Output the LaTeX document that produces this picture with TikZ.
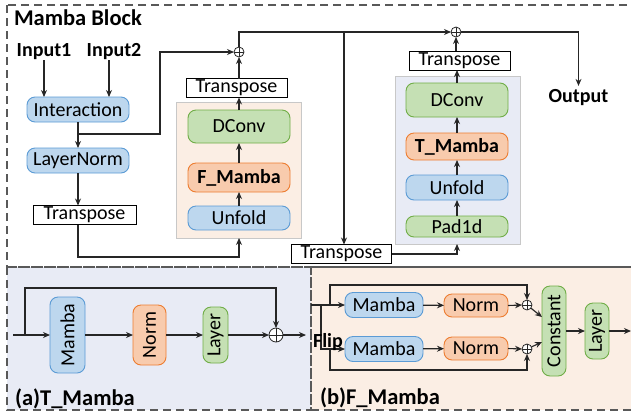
\documentclass[tikz,border=0pt]{standalone}
\usepackage{fontspec}
\usepackage{graphicx}
\setmainfont{Carlito}
\usetikzlibrary{arrows.meta,calc}
\definecolor{bfill}{HTML}{BDD7EE}
\definecolor{bdraw}{HTML}{5B9BD5}
\definecolor{ofill}{HTML}{F8CBAD}
\definecolor{odraw}{HTML}{ED7D31}
\definecolor{gfill}{HTML}{C5E0B4}
\definecolor{gdraw}{HTML}{70AD47}
\definecolor{tpanel}{HTML}{E8EBF5}
\definecolor{fpanel}{HTML}{FBEEE4}
\definecolor{pborder}{HTML}{C8C8C8}
\definecolor{dashc}{HTML}{595959}
\begin{document}
\begin{tikzpicture}[x=1pt,y=-1pt,
  font=\fontsize{20}{24}\selectfont,
  every node/.style={inner sep=0pt, outer sep=0pt},
  blk/.style={rounded corners=8pt, line width=0.9pt},
  bluebox/.style={blk, draw=bdraw, fill=bfill},
  orgbox/.style={blk, draw=odraw, fill=ofill},
  grnbox/.style={blk, draw=gdraw, fill=gfill},
  trbox/.style={draw=black, line width=0.9pt, fill=white, minimum width=101pt, minimum height=19pt},
  panel/.style={draw=pborder, line width=0.8pt},
  frame/.style={draw=dashc, line width=1.4pt, dash pattern=on 8pt off 5pt},
  conn/.style={line width=1.1pt, draw=black!85},
  arr/.style={conn, -{Stealth[length=7pt,width=6pt]}},
  bold/.style={font=\fontsize{20}{24}\selectfont\bfseries},
  bigbold/.style={font=\fontsize{22.5}{26}\selectfont\bfseries},
  sumnode/.style={circle, draw=black!85, line width=0.8pt, fill=white, minimum size=#1,
    path picture={\draw[line width=0.8pt,black!85] (path picture bounding box.north) -- (path picture bounding box.south)
      (path picture bounding box.west) -- (path picture bounding box.east);}},
]
\useasboundingbox (0,0) rectangle (631,416);

% ---------- bottom panels ----------
\fill[tpanel] (7,267) rectangle (311,410);
\fill[fpanel] (311,267) rectangle (640,410);
\draw[frame] (7,5) rectangle (640,267);
\draw[frame] (7,267) rectangle (311,410);
\draw[frame] (311,267) rectangle (640,410);

% ---------- top block ----------
\node[bigbold, anchor=west] (title) at (14,18) {Mamba Block};
\node[bold] (in1) at (44,52) {Input1};
\node[bold] (in2) at (114,52) {Input2};
\node[bluebox, minimum width=102pt, minimum height=25pt] (inter) at (78,109.5) {Interaction};
\node[bluebox, minimum width=102pt, minimum height=25pt] (ln) at (78,160.5) {LayerNorm};
\node[trbox, minimum width=103pt] (tr1) at (84.5,215) {Transpose};

\node[panel, fill=fpanel, minimum width=125pt, minimum height=136pt] (fpan) at (238.5,170) {};
\node[grnbox, minimum width=102pt, minimum height=33pt] (dc1) at (239,126.5) {DConv};
\node[orgbox, bold, minimum width=102pt, minimum height=29pt] (fm) at (239,177.5) {F\_Mamba};
\node[bluebox, minimum width=102pt, minimum height=24pt] (unf1) at (239,218) {Unfold};
\node[trbox] (tr2) at (236.5,88) {Transpose};
\node[sumnode=10pt] (s1) at (239,52) {};

\node[panel, fill=tpanel, minimum width=125pt, minimum height=168pt] (tpan) at (457.5,160) {};
\node[grnbox, minimum width=102pt, minimum height=34pt] (dc2) at (457,100) {DConv};
\node[orgbox, bold, minimum width=102pt, minimum height=27pt] (tm) at (457,146.5) {T\_Mamba};
\node[bluebox, minimum width=102pt, minimum height=25pt] (unf2) at (457,187.5) {Unfold};
\node[grnbox, minimum width=102pt, minimum height=21pt] (pad) at (457,226.5) {Pad1d};
\node[trbox] (tr4) at (459.5,60.5) {Transpose};
\node[sumnode=10pt] (s2) at (456,32) {};
\node[trbox, minimum width=100pt] (tr3) at (341.5,254) {Transpose};
\node[bold, outer sep=4pt] (out) at (578.5,98) {Output};

% connectors top
\draw[arr] (in1.south) -- (in1.south |- inter.north);
\draw[arr] ([xshift=-5pt]in2.south) -- ([xshift=-5pt]in2.south |- inter.north);
\draw[arr] (inter.south) -- (ln.north);
\coordinate (b1) at (78,134);
\coordinate (c1) at (160,134);
\draw[arr] (b1) -- (c1) |- (s1.west);
\draw[arr] (ln.south) -- (ln.south |- tr1.north);
\coordinate (j1) at (78,257);
\draw[arr] (tr1.south -| j1) -- (j1) -| (fpan.south -| unf1.south);
\draw[arr] (unf1.north) -- (fm.south);
\draw[arr] (fm.north) -- (dc1.south);
\draw[arr] (dc1.north) -- (tr2.south -| dc1.north);
\draw[arr] (tr2.north -| s1.south) -- (s1.south);
\draw[arr] (s1.north) |- (s2.west);
\coordinate (b2) at (344,32);
\draw[arr] (b2) -- (b2 |- tr3.north);
\draw[arr] (tr3.east) -| (tpan.south -| pad.south);
\draw[arr] (pad.north) -- (unf2.south);
\draw[arr] (unf2.north) -- (tm.south);
\draw[arr] (tm.north) -- (dc2.south);
\draw[arr] (dc2.north) -- (tr4.south -| dc2.north);
\draw[arr] (tr4.north -| s2.south) -- (s2.south);
\draw[arr] (s2.east) -| (out.north);

% ---------- (a) T_Mamba ----------
\node[bluebox, minimum width=35pt, minimum height=76pt] (am) at (67.5,335) {\rotatebox{90}{Mamba}};
\node[orgbox, minimum width=33pt, minimum height=60pt] (an) at (149.5,335) {\rotatebox{90}{Norm}};
\node[grnbox, minimum width=25pt, minimum height=56pt] (al) at (215.5,335) {\rotatebox{90}{Layer}};
\node[sumnode=14pt] (as) at (276,335) {};
\coordinate (ain) at (13,335);
\coordinate (ab) at (25,335);
\coordinate (atop) at (25,288);
\coordinate (aout) at (306,335);
\draw[arr] (ain) -- (am);
\draw[arr] (ab) -- (atop) -| (as.north);
\draw[arr] (am) -- (an);
\draw[arr] (an) -- (al);
\draw[arr] (al) -- (as);
\draw[arr] (as.east) -- (aout);
\node[bigbold, anchor=west] (alab) at (15,399) {(a)T\_Mamba};

% ---------- (b) F_Mamba ----------
\node[bluebox, minimum width=78pt, minimum height=25pt] (bm1) at (384,305) {Mamba};
\node[orgbox, minimum width=64pt, minimum height=23pt] (bn1) at (476,305.5) {Norm};
\node[bluebox, minimum width=78pt, minimum height=25pt] (bm2) at (384,349) {Mamba};
\node[orgbox, minimum width=64pt, minimum height=23pt] (bn2) at (476,348.5) {Norm};
\node[sumnode=10pt] (bs1) at (527,305) {};
\node[sumnode=10pt] (bs2) at (527,349) {};
\node[grnbox, minimum width=24pt, minimum height=90pt] (bc) at (554,331) {\rotatebox{90}{Constant}};
\node[grnbox, minimum width=24pt, minimum height=56pt] (bl) at (597,331) {\rotatebox{90}{Layer}};
\coordinate (bin) at (311,305);
\coordinate (bout) at (631,331);
\coordinate (bj1) at (330,305);
\coordinate (bj1t) at (330,285);
\coordinate (bj2) at (321,305);
\coordinate (bj2b) at (321,349);
\coordinate (bj3) at (330,349);
\coordinate (bj3b) at (330,370);
\draw[arr] (bin) -- (bm1);
\draw[arr] (bj1) -- (bj1t) -| (bs1.north);
\draw[arr] (bj2) -- (bj2b) -- (bm2);
\draw[arr] (bj3) -- (bj3b) -| (bs2.south);
\draw[arr] (bm1) -- (bn1);
\draw[arr] (bm2) -- (bn2);
\draw[arr] (bn1.east) -- (bs1.west);
\draw[arr] (bn2.east) -- (bs2.west);
\draw[arr] (bs1) -- ([yshift=14pt]bc.west);
\draw[arr] (bs2) -- ([yshift=-11pt]bc.west);
\draw[arr] (bc) -- (bl);
\draw[arr] (bl.east) -- (bout);
\node[bold] (flip) at (328,342) {Flip};
\node[bigbold, anchor=west] (blab) at (320,398) {(b)F\_Mamba};
\end{tikzpicture}
\end{document}
